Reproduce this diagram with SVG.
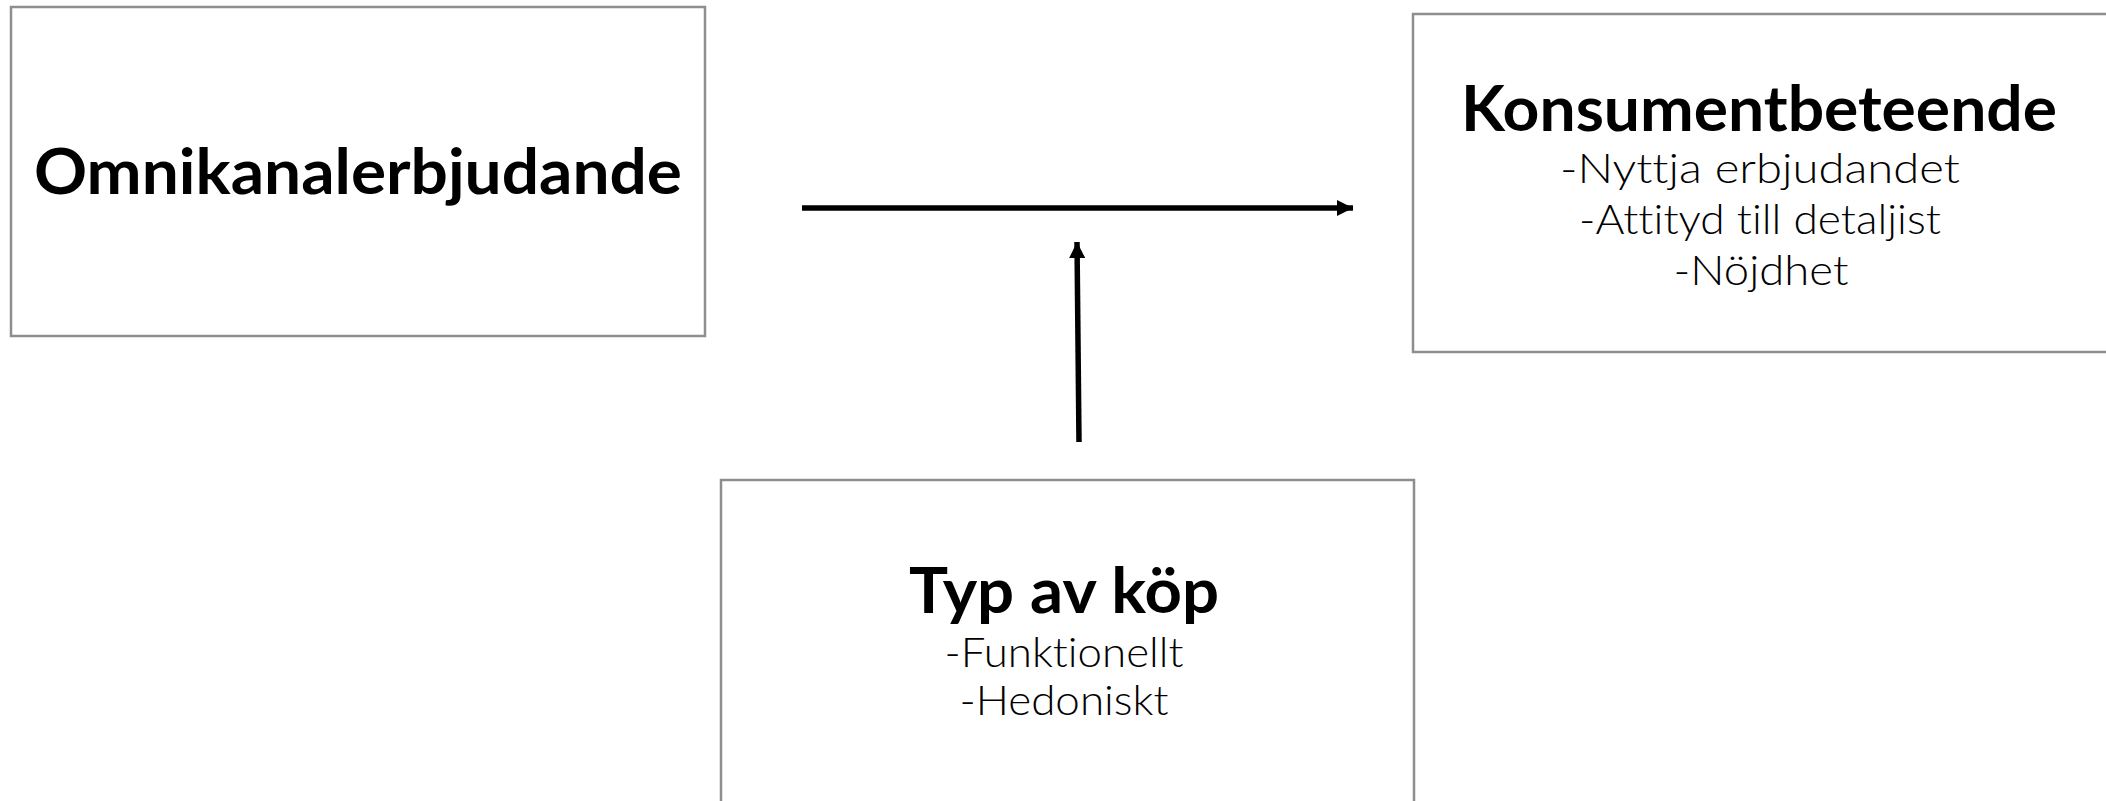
<svg xmlns="http://www.w3.org/2000/svg" width="2106" height="801" viewBox="0 0 2106 801">
  <style>
    text { font-variant-ligatures: none; font-feature-settings: "liga" 0, "clig" 0; }
    .box { fill: #ffffff; stroke: #8e8e8e; stroke-width: 2.5; }
    .title { font-family: "Lato", "DejaVu Sans", sans-serif; font-weight: bold; font-size: 63px; fill: #000000; text-anchor: middle; }
    .item { font-family: "Lato", "DejaVu Sans", sans-serif; font-weight: 300; font-size: 42px; fill: #000000; text-anchor: middle; }
    .conn { stroke: #000000; stroke-width: 5.5; fill: none; }
  </style>
  <defs>
    <marker id="arrow" viewBox="0 0 10 10" refX="10" refY="5" markerUnits="userSpaceOnUse" markerWidth="18" markerHeight="16" orient="auto">
      <path d="M0,0 L10,5 L0,10 Z" fill="#000000"/>
    </marker>
  </defs>
  <rect width="2106" height="801" fill="#ffffff"/>

  <g id="node-omnikanal">
    <rect class="box" x="11" y="7" width="694" height="329"/>
    <text class="title" x="358" y="194" textLength="648" lengthAdjust="spacingAndGlyphs">Omnikanalerbjudande</text>
  </g>

  <g id="node-konsument">
    <rect class="box" x="1413" y="14" width="696" height="338"/>
    <text class="title" x="1759" y="131" textLength="596" lengthAdjust="spacingAndGlyphs">Konsumentbeteende</text>
    <text class="item" x="1760" y="183" textLength="400" lengthAdjust="spacingAndGlyphs">-Nyttja erbjudandet</text>
    <text class="item" x="1760" y="234" textLength="362" lengthAdjust="spacingAndGlyphs">-Attityd till detaljist</text>
    <text class="item" x="1761" y="285" textLength="175" lengthAdjust="spacingAndGlyphs">-Nöjdhet</text>
  </g>

  <g id="node-typ">
    <rect class="box" x="721" y="480" width="693" height="330"/>
    <text class="title" x="1064" y="613" textLength="310" lengthAdjust="spacingAndGlyphs">Typ av köp</text>
    <text class="item" x="1064" y="667" textLength="239" lengthAdjust="spacingAndGlyphs">-Funktionellt</text>
    <text class="item" x="1064" y="715" textLength="209" lengthAdjust="spacingAndGlyphs">-Hedoniskt</text>
  </g>

  <g id="connectors">
    <line class="conn" x1="802" y1="208" x2="1353" y2="208" marker-end="url(#arrow)"/>
    <line class="conn" x1="1079" y1="442" x2="1077" y2="242" marker-end="url(#arrow)"/>
  </g>
</svg>
